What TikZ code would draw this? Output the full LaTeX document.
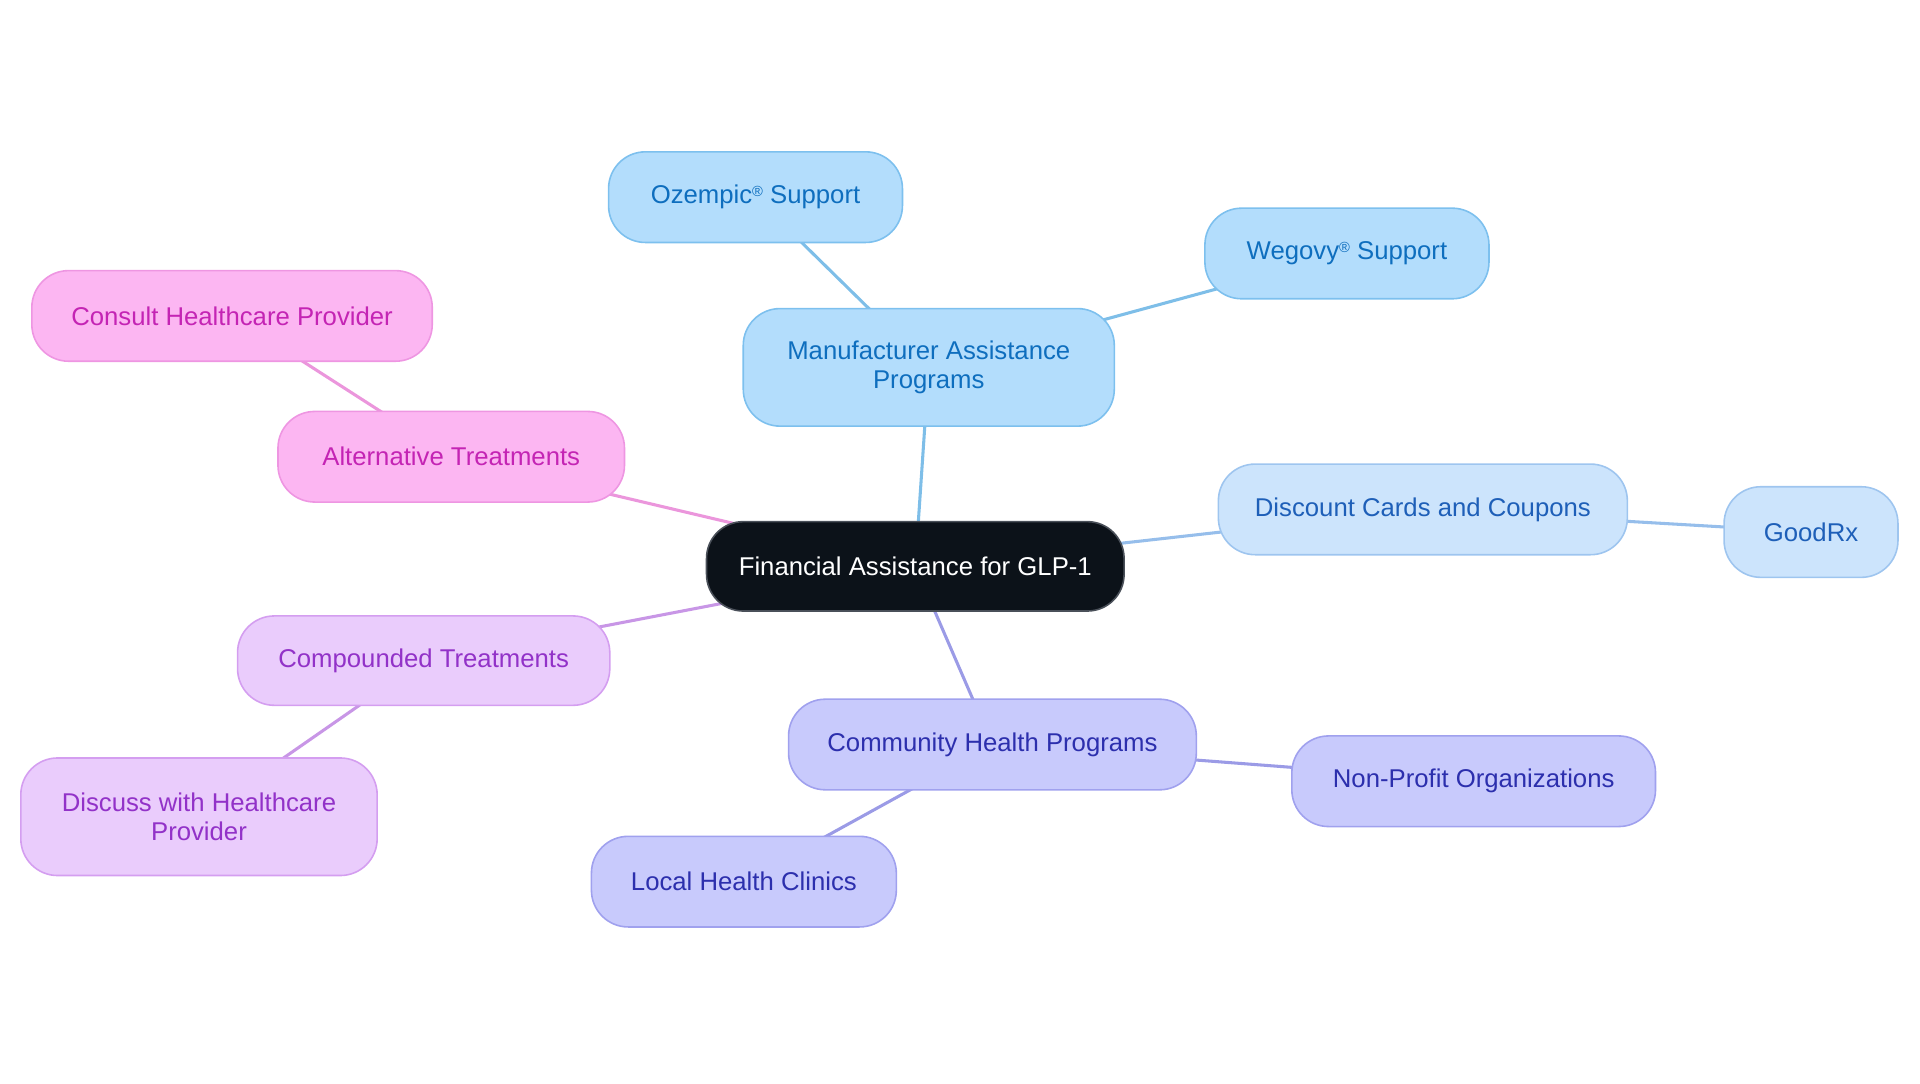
\documentclass[tikz,border=0pt]{standalone}
\usepackage{fontspec}
\setmainfont{Liberation Sans}
\usetikzlibrary{backgrounds}
\definecolor{cfill}{HTML}{0C1219}
\definecolor{cdraw}{HTML}{4A5059}
\definecolor{bfill}{HTML}{B3DDFC}
\definecolor{bdraw}{HTML}{7DC0EE}
\definecolor{btext}{HTML}{0E6EBE}
\definecolor{bline}{HTML}{7EBEE8}
\definecolor{dfill}{HTML}{CCE4FC}
\definecolor{ddraw}{HTML}{9EC5EF}
\definecolor{dtext}{HTML}{1E5FB8}
\definecolor{dline}{HTML}{96BEEB}
\definecolor{mfill}{HTML}{C8CAFC}
\definecolor{mdraw}{HTML}{A0A1EE}
\definecolor{mtext}{HTML}{2C2FAD}
\definecolor{mline}{HTML}{9B9BE6}
\definecolor{pfill}{HTML}{EACCFC}
\definecolor{pdraw}{HTML}{D49EF0}
\definecolor{ptext}{HTML}{9232C8}
\definecolor{pline}{HTML}{C896E6}
\definecolor{kfill}{HTML}{FCB6F2}
\definecolor{kdraw}{HTML}{EE96E2}
\definecolor{ktext}{HTML}{C424B4}
\definecolor{kline}{HTML}{EB96DC}
\newcommand{\regmark}{\raisebox{0.55ex}{\fontsize{12}{12}\selectfont ®}}
\tikzset{
  x=1pt,y=1pt,
  box/.style={rounded corners=30pt, line width=1.3pt, inner sep=0pt, align=center,
    font=\fontsize{21}{23}\selectfont, minimum height=74pt},
  rootbox/.style={box, fill=cfill, draw=cdraw, text=white},
  bluebox/.style={box, fill=bfill, draw=bdraw, text=btext},
  discbox/.style={box, fill=dfill, draw=ddraw, text=dtext},
  commbox/.style={box, fill=mfill, draw=mdraw, text=mtext},
  compbox/.style={box, fill=pfill, draw=pdraw, text=ptext},
  altbox/.style={box, fill=kfill, draw=kdraw, text=ktext},
  link/.style={line width=2.5pt},
}
\begin{document}
\begin{tikzpicture}
\useasboundingbox (0,0) rectangle (1568,-884.5);
\node[rootbox, minimum width=341pt, minimum height=73pt] (root) at (747.5,-462.5) {Financial Assistance for GLP-1};
\node[bluebox, minimum width=303pt, minimum height=96pt] (mfr) at (758.5,-300) {Manufacturer Assistance\\Programs};
\node[bluebox, minimum width=240pt] (oz) at (617,-161) {Ozempic\regmark{} Support};
\node[bluebox, minimum width=232pt] (weg) at (1100,-207) {Wegovy\regmark{} Support};
\node[discbox, minimum width=334pt] (disc) at (1162,-416) {Discount Cards and Coupons};
\node[discbox, minimum width=142pt] (good) at (1479,-434.5) {GoodRx};
\node[commbox, minimum width=333pt] (comm) at (810.5,-608) {Community Health Programs};
\node[commbox, minimum width=297pt] (nonp) at (1203.5,-638) {Non-Profit Organizations};
\node[commbox, minimum width=249pt] (local) at (607.5,-720) {Local Health Clinics};
\node[compbox, minimum width=304pt, minimum height=73pt] (comp) at (346,-539.5) {Compounded Treatments};
\node[compbox, minimum width=291pt, minimum height=96pt] (discuss) at (162.5,-667) {Discuss with Healthcare\\Provider};
\node[altbox, minimum width=283pt] (alt) at (368.5,-373) {Alternative Treatments};
\node[altbox, minimum width=327pt] (cons) at (189.5,-258) {Consult Healthcare Provider};
\begin{pgfonlayer}{background}
\draw[link, draw=bline] (root.center) -- (mfr.center);
\draw[link, draw=bline] (mfr.center) -- (oz.center);
\draw[link, draw=bline] (mfr.center) -- (weg.center);
\draw[link, draw=dline] (root.center) -- (disc.center);
\draw[link, draw=dline] (disc.center) -- (good.center);
\draw[link, draw=mline] (root.center) -- (comm.center);
\draw[link, draw=mline] (comm.center) -- (nonp.center);
\draw[link, draw=mline] (comm.center) -- (local.center);
\draw[link, draw=pline] (root.center) -- (comp.center);
\draw[link, draw=pline] (comp.center) -- (discuss.center);
\draw[link, draw=kline] (root.center) -- (alt.center);
\draw[link, draw=kline] (alt.center) -- (cons.center);
\end{pgfonlayer}
\end{tikzpicture}
\end{document}
